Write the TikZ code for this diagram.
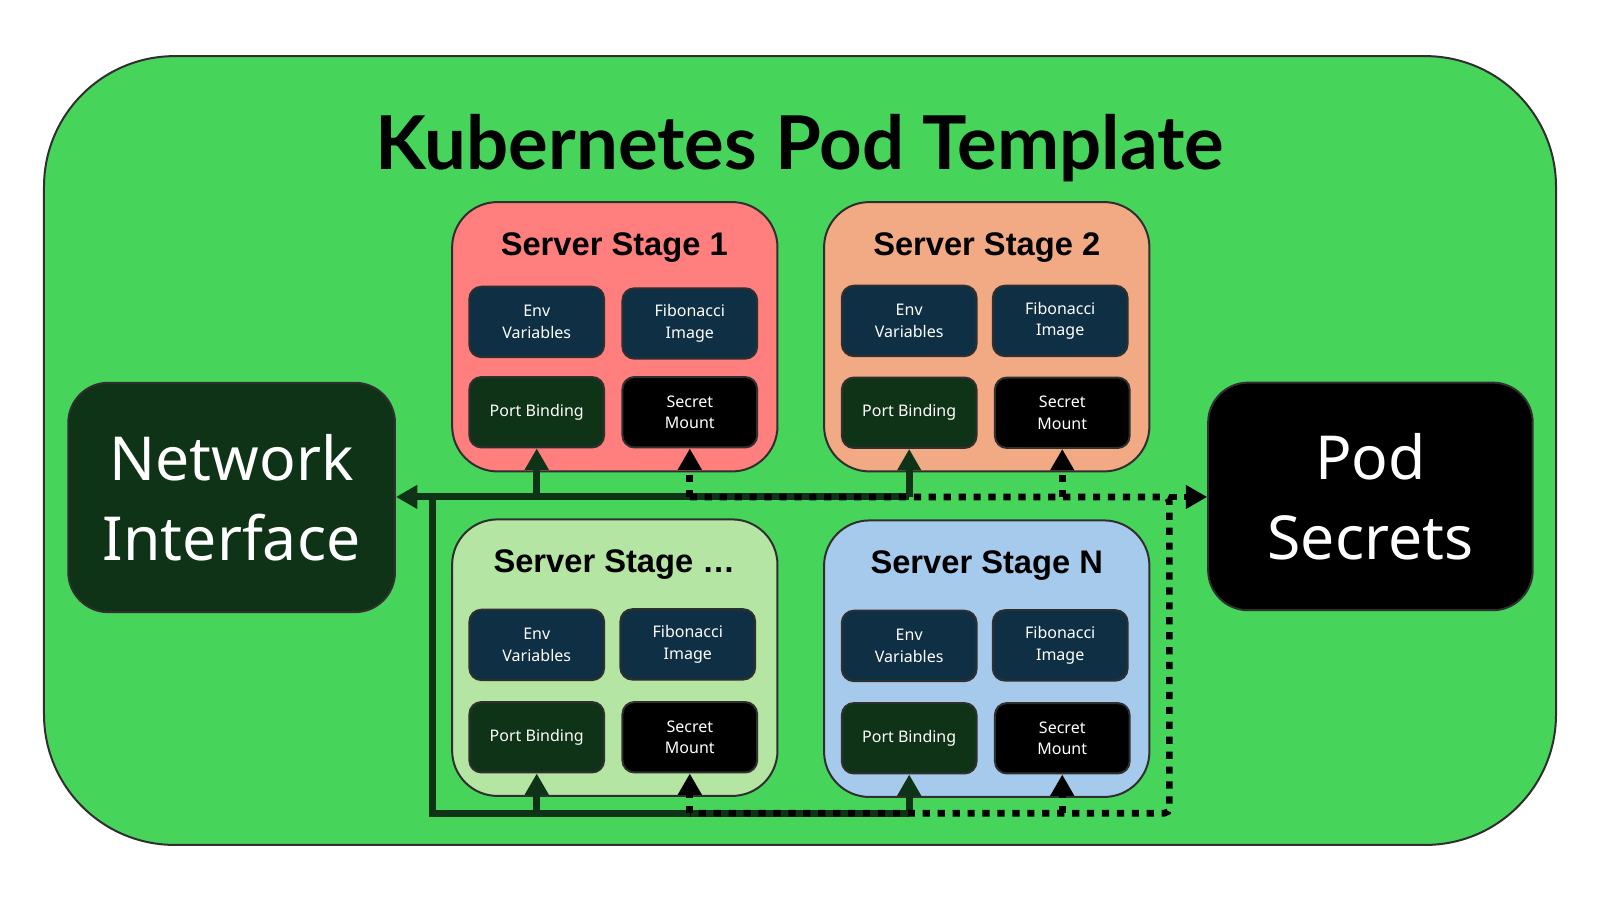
\documentclass[tikz,border=0pt]{standalone}
\usepackage{fontspec}
\setmainfont{Noto Sans}
\newfontfamily\arialf{Liberation Sans}
\newfontfamily\titlef{Lato}
\usetikzlibrary{arrows.meta}
\definecolor{podgreen}{HTML}{47D45B}
\definecolor{edgegray}{HTML}{2F2F2F}
\definecolor{dkgreen}{HTML}{0E3316}
\definecolor{navy}{HTML}{0E2F44}
\definecolor{stone}{HTML}{FF7F7F}
\definecolor{sttwo}{HTML}{F2AA84}
\definecolor{stthree}{HTML}{B4E5A2}
\definecolor{stfour}{HTML}{A6CAEC}
\tikzset{
  innerbox/.style={draw=edgegray, line width=1.5pt, rounded corners=9pt,
    minimum width=101pt, minimum height=52.8pt, inner sep=0pt, text=white,
    align=center, font=\fontsize{12}{16}\selectfont},
  envbox/.style={innerbox, fill=navy},
  portbox/.style={innerbox, fill=dkgreen},
  secbox/.style={innerbox, fill=black},
  stagebox/.style={draw=edgegray, line width=1.5pt, rounded corners=34pt,
    minimum width=244pt, inner sep=0pt},
  stagetitle/.style={font=\arialf\bfseries\fontsize{24.5}{28}\selectfont, inner sep=0pt, anchor=base},
  bigbox/.style={draw=edgegray, line width=1.5pt, rounded corners=30pt,
    minimum width=245pt, minimum height=172pt, inner sep=0pt, text=white,
    align=center, font=\fontsize{45.5}{60}\selectfont},
  solidc/.style={draw=dkgreen, line width=5.3pt},
  dotc/.style={draw=black, line width=5pt, dash pattern=on 5.4pt off 5.8pt},
  tip/.style={-{Triangle[length=16pt,width=17pt]}},
}
\begin{document}
\begin{tikzpicture}[x=0.7653pt,y=-0.7653pt]
\useasboundingbox (0,0) rectangle (1568,882);
\fill[white] (0,0) rectangle (1568,882);
% outer pod
\node[draw=edgegray, line width=1.5pt, fill=podgreen, rounded corners=98pt,
  minimum width=1134pt, minimum height=591.6pt, inner sep=0pt] (pod) at (784,441.5) {};
\node[anchor=base, inner sep=0pt, font=\titlef\bfseries\fontsize{55.7}{60}\selectfont] (title) at (784,166) {Kubernetes Pod Template};
% side boxes
\node[bigbox, fill=dkgreen] (ni) at (227,487.5) {Network\\Interface};
\node[bigbox, fill=black, minimum width=243.4pt, minimum height=170.7pt] (ps) at (1343,486.5) {Pod\\Secrets};
% stages
\node[stagebox, fill=stone, minimum height=202pt] (s1) at (602.5,330) {};
\node[stagebox, fill=sttwo, minimum height=202pt] (s2) at (967,330) {};
\node[stagebox, fill=stthree, minimum height=207.4pt] (s3) at (602.5,644.5) {};
\node[stagebox, fill=stfour, minimum height=207.4pt] (s4) at (967,645.5) {};
\node[stagetitle] (t1) at (602,250) {Server Stage 1};
\node[stagetitle] (t2) at (967,250) {Server Stage 2};
\node[stagetitle] (t3) at (602,561) {Server Stage \dots};
\node[stagetitle] (t4) at (967,562) {Server Stage N};
% stage 1
\node[envbox] (e1) at (526,315.5) {Env\\Variables};
\node[envbox] (f1) at (676,317) {Fibonacci\\Image};
\node[portbox] (p1) at (526,404) {Port Binding};
\node[secbox] (m1) at (676,404) {Secret\\Mount};
% stage 2
\node[envbox] (e2) at (891,314.5) {Env\\Variables};
\node[envbox] (f2) at (1039,314.5) {Fibonacci\\Image};
\node[portbox] (p2) at (891,404.5) {Port Binding};
\node[secbox] (m2) at (1041,404.5) {Secret\\Mount};
% stage 3
\node[envbox] (e3) at (526,632) {Env\\Variables};
\node[envbox] (f3) at (674,631.5) {Fibonacci\\Image};
\node[portbox] (p3) at (526,722.5) {Port Binding};
\node[secbox] (m3) at (676,722.5) {Secret\\Mount};
% stage 4
\node[envbox] (e4) at (891,633) {Env\\Variables};
\node[envbox] (f4) at (1039,632.5) {Fibonacci\\Image};
\node[portbox] (p4) at (891,723.5) {Port Binding};
\node[secbox] (m4) at (1041,723.5) {Secret\\Mount};
% junction coordinates
\coordinate (ja1) at (526,487);
\coordinate (ja2) at (891,487);
\coordinate (jl1) at (424,487);
\coordinate (jl2) at (424,797);
\coordinate (jb1) at (526,797);
\coordinate (jb2) at (891,797);
\coordinate (da1) at (676,487);
\coordinate (da2) at (1041,487);
\coordinate (dc1) at (1146,487);
\coordinate (dc2) at (1146,797);
\coordinate (db1) at (676,797);
\coordinate (db2) at (1041,797);
% solid network connectors
\draw[solidc] (jl1) -- (jl2) -- (jb2);
\draw[solidc, tip] (ja2) -- (ni.east |- ja2);
\draw[solidc, tip] (ja1) -- (p1.south);
\draw[solidc, tip] (ja2) -- (p2.south);
\draw[solidc, tip] (jb1) -- (p3.south);
\draw[solidc, tip] (jb2) -- (p4.south);
% dotted secret connectors
\draw[dotc, rounded corners=4pt] (da1) -- (dc1) -- (dc2) -- (db1);
\draw[dotc, tip] (dc1) -- (ps.west |- dc1);
\draw[dotc, tip] (da1) -- (m1.south);
\draw[dotc, tip] (da2) -- (m2.south);
\draw[dotc, tip] (db1) -- (m3.south);
\draw[dotc, tip] (db2) -- (m4.south);
\end{tikzpicture}
\end{document}
